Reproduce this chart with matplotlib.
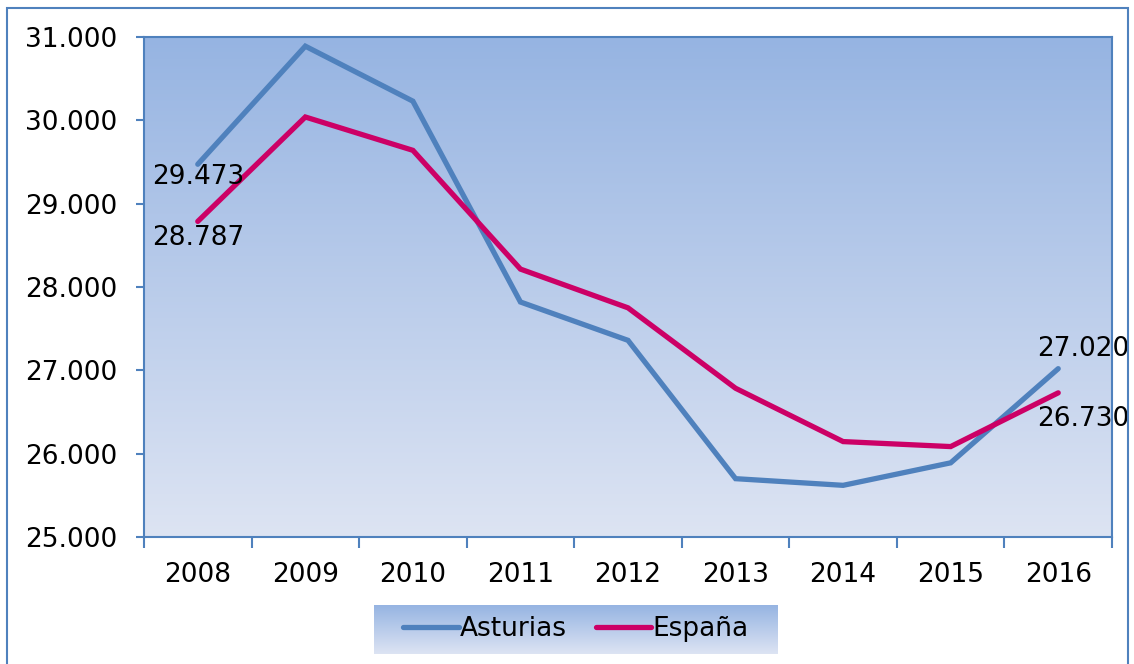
import numpy as np
import matplotlib.pyplot as plt
from matplotlib.patches import Rectangle

years = ['2008', '2009', '2010', '2011', '2012', '2013', '2014', '2015', '2016']
asturias = [29473, 30890, 30230, 27820, 27360, 25700, 25620, 25890, 27020]
espana = [28787, 30040, 29640, 28215, 27750, 26785, 26145, 26085, 26730]
yticks = [25000, 26000, 27000, 28000, 29000, 30000, 31000]
ytick_labels = ['25.000', '26.000', '27.000', '28.000', '29.000', '30.000', '31.000']

c_ast = '#4F81BD'
c_esp = '#CC0066'
c_edge = '#4F81BD'

plt.rcParams['font.family'] = ['DejaVu Sans']
fig = plt.figure(figsize=(11.34, 6.64), dpi=100)

# gradient for plot area and legend box
grad = np.linspace(0, 1, 256).reshape(-1, 1)
top = np.array([150, 180, 226]) / 255
bot = np.array([221, 228, 243]) / 255
grad_img = top[None, None, :] * (1 - grad[:, :, None]) + bot[None, None, :] * grad[:, :, None]

ax = fig.add_axes([144/1134, 1 - 537/664, 968/1134, 500/664])
ax.imshow(grad_img, extent=[0, 1, 0, 1], transform=ax.transAxes, aspect='auto', zorder=0)

x = np.arange(len(years))
ax.plot(x, asturias, color=c_ast, lw=3.8, solid_capstyle='round', solid_joinstyle='miter',
        label='Asturias', zorder=3)
ax.plot(x, espana, color=c_esp, lw=3.8, solid_capstyle='round', solid_joinstyle='miter',
        label='España', zorder=3)

fs = 19
ax.set_xlim(-0.5, len(years) - 0.5)
ax.set_ylim(25000, 31000)
ax.set_yticks(yticks)
ax.set_yticklabels(ytick_labels)
ax.set_xticks(np.arange(-0.5, len(years)), labels=[''] * (len(years) + 1))
ax.set_xticks(x, labels=years, minor=True)
ax.tick_params(axis='x', which='major', direction='out', length=8, width=1.5, color=c_edge)
ax.tick_params(axis='x', which='minor', length=0, pad=18, labelsize=fs)
ax.tick_params(axis='y', direction='out', length=6, width=1.5, color=c_edge, pad=13, labelsize=fs)
for s in ax.spines.values():
    s.set_color(c_edge)
    s.set_linewidth(1.5)

# data labels
ax.annotate('29.473', (0, asturias[0]), xytext=(0, -9), textcoords='offset points',
            ha='center', va='center', fontsize=fs, zorder=4)
ax.annotate('28.787', (0, espana[0]), xytext=(0, -12), textcoords='offset points',
            ha='center', va='center', fontsize=fs, zorder=4)
ax.annotate('27.020', (8, asturias[8]), xytext=(18, 14), textcoords='offset points',
            ha='center', va='center', fontsize=fs, zorder=4, annotation_clip=False)
ax.annotate('26.730', (8, espana[8]), xytext=(18, -19), textcoords='offset points',
            ha='center', va='center', fontsize=fs, zorder=4, annotation_clip=False)

# legend box with gradient
lax = fig.add_axes([374/1134, 1 - 654/664, 404/1134, 49/664])
lax.imshow(grad_img, extent=[0, 1, 0, 1], aspect='auto')
lax.set_xlim(0, 1)
lax.set_ylim(0, 1)
lax.axis('off')
h, l = ax.get_legend_handles_labels()
lax.legend(h, l, loc='center', ncol=2, frameon=False, fontsize=fs, handlelength=2.1,
           handletextpad=0.05, columnspacing=1.1, borderaxespad=0)

# outer border
fig.patches.append(Rectangle((7/1134, -0.05), 1121/1134, 1.05 - 8/664, transform=fig.transFigure,
                             fill=False, edgecolor=c_edge, lw=1.5))

fig.savefig('out.png', dpi=100)
